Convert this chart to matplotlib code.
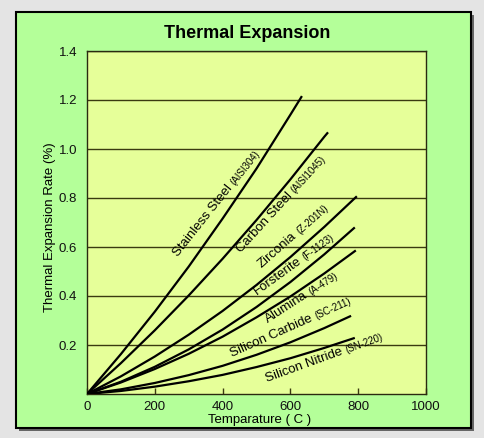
import matplotlib
matplotlib.use('Agg')
import matplotlib.pyplot as plt
from matplotlib.patches import Rectangle
import numpy as np

plt.rcParams['font.family'] = ['Liberation Sans', 'DejaVu Sans']

# ---- data ----
temps_stainless = [0, 100, 200, 300, 400, 500, 600, 634]
vals_stainless = [0, 0.163, 0.336, 0.52, 0.716, 0.92, 1.14, 1.216]

temps_carbon = [0, 100, 200, 300, 400, 500, 600, 700, 711]
vals_carbon = [0, 0.126, 0.26, 0.402, 0.552, 0.71, 0.876, 1.05, 1.068]

temps_zirconia = [0, 100, 200, 300, 400, 500, 600, 700, 796]
vals_zirconia = [0, 0.072, 0.153, 0.242, 0.339, 0.445, 0.559, 0.682, 0.807]

temps_forsterite = [0, 100, 200, 300, 400, 500, 600, 700, 790]
vals_forsterite = [0, 0.050, 0.111, 0.182, 0.263, 0.355, 0.457, 0.57, 0.68]

temps_alumina = [0, 100, 200, 300, 400, 500, 600, 700, 793]
vals_alumina = [0, 0.047, 0.102, 0.164, 0.234, 0.313, 0.398, 0.492, 0.586]

temps_sic = [0, 100, 200, 300, 400, 500, 600, 700, 779]
vals_sic = [0, 0.019, 0.045, 0.077, 0.115, 0.16, 0.211, 0.269, 0.319]

temps_sin = [0, 100, 200, 300, 400, 500, 600, 700, 790]
vals_sin = [0, 0.0124, 0.03, 0.052, 0.078, 0.11, 0.146, 0.188, 0.229]

names = ['Stainless Steel', 'Carbon Steel', 'Zirconia', 'Forsterite',
         'Alumina', 'Silicon Carbide', 'Silicon Nitride']
codes = ['(AISI304)', '(AISI1045)', '(Z-201N)', '(F-1123)',
         '(A-479)', '(SC-211)', '(SN-220)']
label_T = [268, 453, 516, 501, 534, 428, 531]
label_v = [0.559, 0.576, 0.514, 0.404, 0.29, 0.151, 0.049]
label_angle = [51.5, 47.6, 41.4, 36, 33, 24, 20]

x_ticks = [0, 200, 400, 600, 800, 1000]
y_ticks = [0.2, 0.4, 0.6, 0.8, 1.0, 1.2, 1.4]

series = [(temps_stainless, vals_stainless), (temps_carbon, vals_carbon),
          (temps_zirconia, vals_zirconia), (temps_forsterite, vals_forsterite),
          (temps_alumina, vals_alumina), (temps_sic, vals_sic),
          (temps_sin, vals_sin)]

# ---- figure ----
W, H = 484, 438
fig = plt.figure(figsize=(W / 100, H / 100), dpi=100)
fig.patch.set_facecolor('#e4e4e4')

# panel with drop shadow
px0, py0, px1, py1 = 16, 12, 471, 428
fig.patches.append(Rectangle(((px0 + 3) / W, 1 - (py1 + 3) / H),
                             (px1 - px0) / W, (py1 - py0) / H,
                             transform=fig.transFigure, facecolor='#666666',
                             edgecolor='none', zorder=-3))
fig.patches.append(Rectangle((px0 / W, 1 - py1 / H),
                             (px1 - px0) / W, (py1 - py0) / H,
                             transform=fig.transFigure, facecolor='#b4ff99',
                             edgecolor='black', linewidth=1.5, zorder=-2))

ax = fig.add_axes([87 / W, 1 - 394 / H, (426 - 87) / W, (394 - 51) / H])
ax.set_zorder(2)
ax.set_facecolor('#e6ff99')
ax.set_xlim(0, 1000)
ax.set_ylim(0, 1.4)

grid_col = '#3a3a10'
for yv in y_ticks:
    ax.axhline(yv, color=grid_col, linewidth=1.0, zorder=1)

for t, v in series:
    ax.plot(t, v, color='black', linewidth=1.6, zorder=3,
            solid_capstyle='butt', solid_joinstyle='round')

ax.set_xticks(x_ticks)
ax.set_xticklabels([str(x) for x in x_ticks])
ax.set_yticks(y_ticks)
ax.set_yticklabels(['%.1f' % y for y in y_ticks])
ax.tick_params(axis='x', direction='in', length=4, width=1.0,
               color=grid_col, labelsize=9.5, pad=5, labelcolor='#111111')
ax.tick_params(axis='y', length=0, labelsize=9.5, pad=7, labelcolor='#111111')
for s in ax.spines.values():
    s.set_color('#2a2a10')
    s.set_linewidth(1.0)

fig.text(247 / W, 1 - 34 / H, 'Thermal Expansion', ha='center', va='center',
         fontsize=13, fontweight='bold', zorder=5)
fig.text(260 / W, 1 - 420 / H, 'Temparature ( C )', ha='center',
         va='center', fontsize=9.5, zorder=5)
fig.text(50 / W, 1 - 227 / H, 'Thermal Expansion Rate (%)', ha='center',
         va='center', rotation=90, fontsize=9.5, zorder=5)

# curve labels: main name + smaller code
fig.canvas.draw()
renderer = fig.canvas.get_renderer()
main_fs = 9.5
code_fs = 7
for name, code, T, v, ang in zip(names, codes, label_T, label_v, label_angle):
    ax.text(T, v, name, rotation=ang, rotation_mode='anchor', ha='left',
            va='baseline', fontsize=main_fs, zorder=4)
    tmp = ax.text(0, 0, name + ' ', fontsize=main_fs)
    wpx = tmp.get_window_extent(renderer).width
    tmp.remove()
    sx, sy = ax.transData.transform((T, v))
    a = np.deg2rad(ang)
    nx, ny = sx + wpx * np.cos(a), sy + wpx * np.sin(a)
    dT, dv = ax.transData.inverted().transform((nx, ny))
    ax.text(dT, dv, code, rotation=ang, rotation_mode='anchor', ha='left',
            va='baseline', fontsize=code_fs, zorder=4)

fig.savefig('out.png', dpi=100, facecolor=fig.get_facecolor())
